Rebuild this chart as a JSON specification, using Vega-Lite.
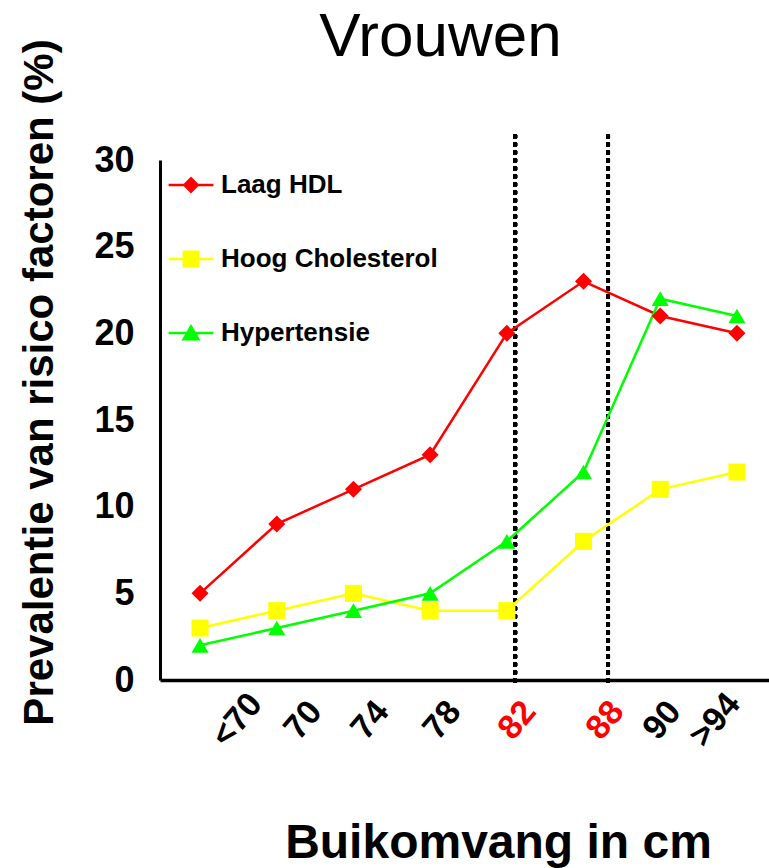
{
  "$schema": "https://vega.github.io/schema/vega-lite/v6.json",
  "width": 609,
  "height": 520,
  "autosize": "none",
  "padding": {"left": 160, "top": 160, "right": 0, "bottom": 188},
  "background": "white",
  "title": {
    "text": "Vrouwen",
    "font": "Liberation Sans",
    "fontSize": 62,
    "fontWeight": "normal",
    "color": "black",
    "anchor": "middle",
    "frame": "group",
    "baseline": "alphabetic",
    "offset": -79,
    "dx": -24
  },
  "config": {
    "view": {"stroke": null},
    "font": "Liberation Sans"
  },
  "data": {
    "values": [
      {"pos": 1, "klasse": "<70", "series": "Laag HDL", "value": 5},
      {"pos": 2, "klasse": "70", "series": "Laag HDL", "value": 9},
      {"pos": 3, "klasse": "74", "series": "Laag HDL", "value": 11},
      {"pos": 4, "klasse": "78", "series": "Laag HDL", "value": 13},
      {"pos": 5, "klasse": "82", "series": "Laag HDL", "value": 20},
      {"pos": 6, "klasse": "88", "series": "Laag HDL", "value": 23},
      {"pos": 7, "klasse": "90", "series": "Laag HDL", "value": 21},
      {"pos": 8, "klasse": ">94", "series": "Laag HDL", "value": 20},
      {"pos": 1, "klasse": "<70", "series": "Hoog Cholesterol", "value": 3},
      {"pos": 2, "klasse": "70", "series": "Hoog Cholesterol", "value": 4},
      {"pos": 3, "klasse": "74", "series": "Hoog Cholesterol", "value": 5},
      {"pos": 4, "klasse": "78", "series": "Hoog Cholesterol", "value": 4},
      {"pos": 5, "klasse": "82", "series": "Hoog Cholesterol", "value": 4},
      {"pos": 6, "klasse": "88", "series": "Hoog Cholesterol", "value": 8},
      {"pos": 7, "klasse": "90", "series": "Hoog Cholesterol", "value": 11},
      {"pos": 8, "klasse": ">94", "series": "Hoog Cholesterol", "value": 12},
      {"pos": 1, "klasse": "<70", "series": "Hypertensie", "value": 2},
      {"pos": 2, "klasse": "70", "series": "Hypertensie", "value": 3},
      {"pos": 3, "klasse": "74", "series": "Hypertensie", "value": 4},
      {"pos": 4, "klasse": "78", "series": "Hypertensie", "value": 5},
      {"pos": 5, "klasse": "82", "series": "Hypertensie", "value": 8},
      {"pos": 6, "klasse": "88", "series": "Hypertensie", "value": 12},
      {"pos": 7, "klasse": "90", "series": "Hypertensie", "value": 22},
      {"pos": 8, "klasse": ">94", "series": "Hypertensie", "value": 21}
    ]
  },
  "encoding": {
    "x": {
      "field": "pos",
      "type": "quantitative",
      "scale": {"domain": [0.478, 8.418], "nice": false, "zero": false},
      "axis": {
        "values": [1.482, 2.343, 3.216, 4.155, 5.133, 6.28, 7.023, 7.714],
        "labelExpr": "datum.value < 2 ? '<70' : datum.value < 3 ? '70' : datum.value < 4 ? '74' : datum.value < 5 ? '78' : datum.value < 6 ? '82' : datum.value < 7 ? '88' : datum.value < 7.5 ? '90' : '>94'",
        "labelColor": {"condition": {"test": "datum.value > 5 && datum.value < 6.5", "value": "#ff0000"}, "value": "black"},
        "labelAngle": -50,
        "labelAlign": "center",
        "labelBaseline": "middle",
        "labelPadding": 40,
        "labelFontSize": 34,
        "labelFontWeight": "bold",
        "labelFont": "Liberation Sans",
        "labelOverlap": false,
        "labelFlush": false,
        "labelBound": false,
        "ticks": false,
        "tickSize": 0,
        "grid": false,
        "domainColor": "black",
        "domainWidth": 3.5,
        "title": "Buikomvang in cm",
        "titleFont": "Liberation Sans",
        "titleFontSize": 48,
        "titleFontWeight": "bold",
        "titleColor": "black",
        "titleAlign": "center",
        "titleBaseline": "alphabetic",
        "titleX": 338,
        "titleY": 177
      }
    },
    "y": {
      "field": "value",
      "type": "quantitative",
      "scale": {"domain": [0, 30], "nice": false},
      "axis": {
        "values": [0, 5, 10, 15, 20, 25, 30],
        "labelFontSize": 36,
        "labelFontWeight": "bold",
        "labelFont": "Liberation Sans",
        "labelColor": "black",
        "labelPadding": 26,
        "labelBaseline": "middle",
        "ticks": false,
        "tickSize": 0,
        "grid": false,
        "domainColor": "black",
        "domainWidth": 3,
        "title": "Prevalentie van risico factoren (%)",
        "titleFont": "Liberation Sans",
        "titleFontSize": 42,
        "titleFontWeight": "bold",
        "titleColor": "black",
        "titleAngle": -90,
        "titleAlign": "center",
        "titleBaseline": "middle",
        "titleX": -121,
        "titleY": 222
      }
    }
  },
  "layer": [
    {
      "mark": {"type": "point", "filled": true, "size": 784, "opacity": 0},
      "encoding": {
        "color": {
          "field": "series",
          "type": "nominal",
          "scale": {"domain": ["Laag HDL", "Hoog Cholesterol", "Hypertensie"], "range": ["#ff0000", "#ffff00", "#00ff00"]},
          "legend": {
            "orient": "none",
            "legendX": 17,
            "legendY": 11,
            "padding": 0,
            "title": null,
            "rowPadding": 47,
            "symbolSize": 784,
            "symbolOpacity": 1,
            "symbolStrokeWidth": 0,
            "labelFontSize": 26,
            "labelFontWeight": "bold",
            "labelFont": "Liberation Sans",
            "labelColor": "black",
            "labelOffset": 16,
            "labelLimit": 400
          }
        },
        "shape": {
          "field": "series",
          "type": "nominal",
          "scale": {
            "domain": ["Laag HDL", "Hoog Cholesterol", "Hypertensie"],
            "range": [
              "M-1.6,-0.09H1.6V0.09H-1.6ZM0,-0.6L0.6,0L0,0.6L-0.6,0Z",
              "M-1.6,-0.09H1.6V0.09H-1.6ZM-0.6,-0.6H0.6V0.6H-0.6Z",
              "M-1.6,-0.09H1.6V0.09H-1.6ZM0,-0.64L0.68,0.54H-0.68Z"
            ]
          },
          "legend": {
            "orient": "none",
            "legendX": 17,
            "legendY": 11,
            "padding": 0,
            "title": null,
            "rowPadding": 47,
            "symbolSize": 784,
            "symbolOpacity": 1,
            "symbolStrokeWidth": 0,
            "labelFontSize": 26,
            "labelFontWeight": "bold",
            "labelFont": "Liberation Sans",
            "labelColor": "black",
            "labelOffset": 16,
            "labelLimit": 400
          }
        }
      }
    },
    {
      "mark": {"type": "rule", "stroke": "black", "strokeWidth": 4, "strokeDash": [4, 4]},
      "encoding": {
        "x": {"datum": 5.107, "type": "quantitative"},
        "y": {"datum": 31.45, "type": "quantitative"},
        "y2": {"datum": -0.2}
      }
    },
    {
      "mark": {"type": "rule", "stroke": "black", "strokeWidth": 4, "strokeDash": [4, 4]},
      "encoding": {
        "x": {"datum": 6.319, "type": "quantitative"},
        "y": {"datum": 31.45, "type": "quantitative"},
        "y2": {"datum": -0.2}
      }
    },
    {
      "mark": {"type": "line", "strokeWidth": 2.5},
      "encoding": {
        "stroke": {
          "field": "series",
          "type": "nominal",
          "scale": {"domain": ["Laag HDL", "Hoog Cholesterol", "Hypertensie"], "range": ["#ff0000", "#ffff00", "#00ff00"]},
          "legend": null
        }
      }
    },
    {
      "transform": [{"filter": "datum.series == 'Laag HDL'"}],
      "mark": {"type": "point", "shape": "diamond", "filled": true, "size": 290, "opacity": 1, "color": "#ff0000"}
    },
    {
      "transform": [{"filter": "datum.series == 'Hoog Cholesterol'"}],
      "mark": {"type": "point", "shape": "square", "filled": true, "size": 290, "opacity": 1, "color": "#ffff00"}
    },
    {
      "transform": [{"filter": "datum.series == 'Hypertensie'"}],
      "mark": {"type": "point", "shape": "triangle-up", "filled": true, "size": 290, "opacity": 1, "color": "#00ff00"}
    }
  ]
}
